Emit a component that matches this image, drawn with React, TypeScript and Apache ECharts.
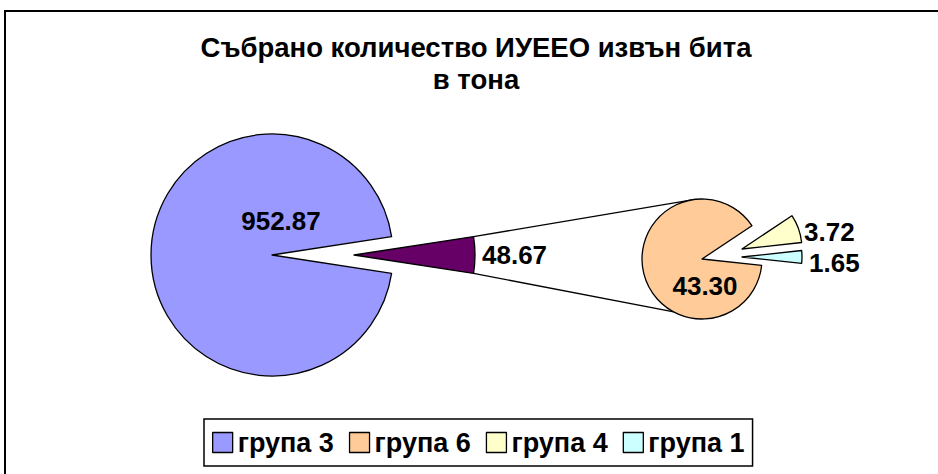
import React, { useEffect, useRef } from "react";
import * as echarts from "echarts";

// ---- data ----
const titleLines = ["Събрано количество ИУЕЕО извън бита", "в тона"];
const mainNames = ["група 3"];
const mainValues = [952.87];
const otherName = "Други";
const secondNames = ["група 6", "група 4", "група 1"];
const secondValues = [43.3, 3.72, 1.65];
const legendNames = ["група 3", "група 6", "група 4", "група 1"];
const sliceColors: Record<string, string> = {
  "група 3": "#9999FF",
  "група 6": "#FFCC99",
  "група 4": "#FFFFCC",
  "група 1": "#CCFFFF",
  [otherName]: "#660066",
};

// ---- layout ----
const FONT = "'Liberation Sans', Arial, sans-serif";
const mainCenter = [272, 255];
const mainRadius = 121;
const otherExplode = 82;
const secondCenter = [702, 259];
const secondRadius = 60;
const secondStart = -6;
const secondExplode: Record<string, number[]> = {
  "група 6": [0, 0],
  "група 4": [40, -10],
  "група 1": [40, -2],
};
const labelPos: Record<string, { x: number; y: number; align: string }> = {
  "група 3": { x: 281, y: 221, align: "center" },
  [otherName]: { x: 482, y: 255, align: "left" },
  "група 6": { x: 705, y: 286, align: "center" },
  "група 4": { x: 804, y: 232, align: "left" },
  "група 1": { x: 809, y: 263, align: "left" },
};

function pieSeries(
  id: string,
  center: number[],
  radius: number,
  names: string[],
  values: number[],
  visibleIdx: number,
  startAngle: number
) {
  const visName = names[visibleIdx];
  const lp = labelPos[visName];
  return {
    id,
    type: "pie",
    center,
    radius,
    startAngle,
    clockwise: true,
    silent: true,
    avoidLabelOverlap: false,
    emphasis: { disabled: true },
    labelLine: { show: false },
    data: names.map((n, i) => ({
      name: n,
      value: values[i],
      itemStyle:
        i === visibleIdx
          ? { color: sliceColors[n], borderColor: "#000", borderWidth: 1.3 }
          : { color: "rgba(0,0,0,0)", borderWidth: 0 },
      label:
        i === visibleIdx
          ? {
              show: true,
              position: "inside",
              formatter: (p: any) => Number(p.value).toFixed(2),
              color: "#000",
              fontFamily: FONT,
              fontWeight: "bold",
              fontSize: 26,
            }
          : { show: false },
    })),
    labelLayout: (params: any) =>
      params.dataIndex === visibleIdx
        ? { x: lp.x, y: lp.y, align: lp.align, verticalAlign: "middle" }
        : {},
  };
}

export default function App() {
  const ref = useRef<HTMLDivElement>(null);
  useEffect(() => {
    document.body.style.margin = "0";
    if (!ref.current) return;
    const chart = echarts.init(ref.current, null, { renderer: "svg" });

    const otherSum = secondValues.reduce((a, b) => a + b, 0);
    const mNames = [...mainNames, otherName];
    const mValues = [...mainValues, otherSum];
    const mTotal = mValues.reduce((a, b) => a + b, 0);
    const halfOther = ((otherSum / mTotal) * 360) / 2;
    const mainStart = -halfOther;

    const otherCenter = [mainCenter[0] + otherExplode, mainCenter[1]];
    const series: any[] = [
      pieSeries("main", mainCenter, mainRadius, mNames, mValues, 0, mainStart),
      pieSeries("other", otherCenter, mainRadius, mNames, mValues, 1, mainStart),
    ];
    secondNames.forEach((n, i) => {
      const off = secondExplode[n];
      series.push(
        pieSeries(
          "second" + i,
          [secondCenter[0] + off[0], secondCenter[1] + off[1]],
          secondRadius,
          secondNames,
          secondValues,
          i,
          secondStart
        )
      );
    });

    const rad = (d: number) => (d * Math.PI) / 180;
    const pt = (c: number[], r: number, a: number) => [
      c[0] + r * Math.cos(rad(a)),
      c[1] - r * Math.sin(rad(a)),
    ];
    const a1 = pt(otherCenter, mainRadius, halfOther);
    const a2 = pt(otherCenter, mainRadius, -halfOther);
    const b1 = pt(secondCenter, secondRadius, 99.5);
    const b2 = pt(secondCenter, secondRadius, -118);

    chart.setOption({
      animation: false,
      title: {
        text: titleLines.join("\n"),
        left: 471,
        top: 26,
        textAlign: "center",
        textStyle: {
          fontFamily: FONT,
          fontWeight: "bold",
          fontSize: 27.5,
          lineHeight: 32,
          color: "#000",
        },
      },
      legend: {
        data: legendNames.map((n) => ({
          name: n,
          itemStyle: { color: sliceColors[n], borderColor: "#000", borderWidth: 1.3 },
        })),
        selectedMode: false,
        left: 204,
        top: 419,
        padding: [9.5, 8, 9.5, 8],
        itemWidth: 20,
        itemHeight: 20,
        itemGap: 15,
        icon: "rect",
        borderColor: "#000",
        borderWidth: 1.5,
        textStyle: {
          fontFamily: FONT,
          fontWeight: "bold",
          fontSize: 27,
          lineHeight: 28,
          color: "#000",
        },
      },
      graphic: [
        {
          type: "rect",
          shape: { x: 5, y: 11, width: 960, height: 500 },
          style: { fill: "none", stroke: "#000", lineWidth: 2 },
          silent: true,
        },
        {
          type: "line",
          shape: { x1: a1[0], y1: a1[1], x2: b1[0], y2: b1[1] },
          style: { stroke: "#000", lineWidth: 1.3 },
          silent: true,
        },
        {
          type: "line",
          shape: { x1: a2[0], y1: a2[1], x2: b2[0], y2: b2[1] },
          style: { stroke: "#000", lineWidth: 1.3 },
          silent: true,
        },
      ],
      series,
    });
    return () => chart.dispose();
  }, []);
  return <div ref={ref} style={{ width: 938, height: 474 }} />;
}
